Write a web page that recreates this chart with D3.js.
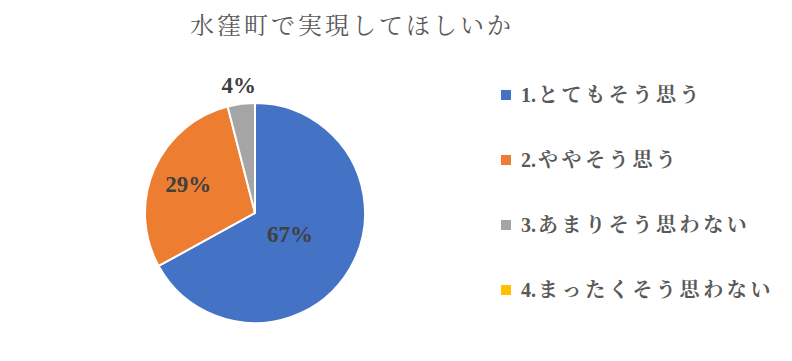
<!DOCTYPE html>
<html><head><meta charset="utf-8">
<script src="https://cdn.jsdelivr.net/npm/d3@7"></script>
<style>body{margin:0;background:#fff}</style>
</head><body>
<script>
const title = "水窪町で実現してほしいか";
const categories = ["1.とてもそう思う","2.ややそう思う","3.あまりそう思わない","4.まったくそう思わない"];
const values = [67, 29, 4, 0];
const labels = ["67%","29%","4%",""];
const colors = ["#4472C4","#ED7D31","#A5A5A5","#FFC000"];

const W=792,H=361;
const font = "'Liberation Serif','Noto Serif CJK JP','Noto Sans CJK JP',serif";
const svg = d3.select("body").append("svg").attr("width",W).attr("height",H);

svg.append("text").attr("x",352).attr("y",34).attr("text-anchor","middle")
  .attr("font-family",font).attr("font-size",24).attr("letter-spacing",3)
  .attr("fill","#595959").text(title);

const cx=255, cy=213, r=110;
const pie = d3.pie().sort(null).value(d=>d)(values);
const arc = d3.arc().innerRadius(0).outerRadius(r);
const g = svg.append("g").attr("transform",`translate(${cx},${cy})`);
g.selectAll("path").data(pie).enter().append("path")
  .attr("d",arc).attr("fill",(d,i)=>colors[i]).attr("stroke","#fff").attr("stroke-width",2);

const labelRadius = [0.37, 0.66, 1.17, 1];
g.selectAll("text.lbl").data(pie).enter().append("text")
  .attr("transform",(d,i)=>{const a=d3.arc().innerRadius(r*labelRadius[i]).outerRadius(r*labelRadius[i]);const c=a.centroid(d);return `translate(${c[0]},${c[1]})`;})
  .attr("text-anchor","middle").attr("dy","0.35em")
  .attr("font-family",font).attr("font-weight","bold").attr("font-size",23).attr("fill","#404040")
  .text((d,i)=>labels[i]);

const leg = svg.append("g");
const ly = d3.scalePoint().domain(categories).range([95,290]);
categories.forEach((c,i)=>{
  leg.append("rect").attr("x",501).attr("y",ly(c)-5).attr("width",10).attr("height",10).attr("fill",colors[i]);
  const k = c.indexOf(".")+1;
  const t = leg.append("text").attr("x",521).attr("y",ly(c)).attr("dy","0.36em")
    .attr("font-family",font).attr("font-weight","bold").attr("font-size",20)
    .attr("fill","#595959");
  t.append("tspan").text(c.slice(0,k));
  t.append("tspan").attr("dx",2).attr("letter-spacing",3.6).text(c.slice(k));
});
</script>
</body></html>
